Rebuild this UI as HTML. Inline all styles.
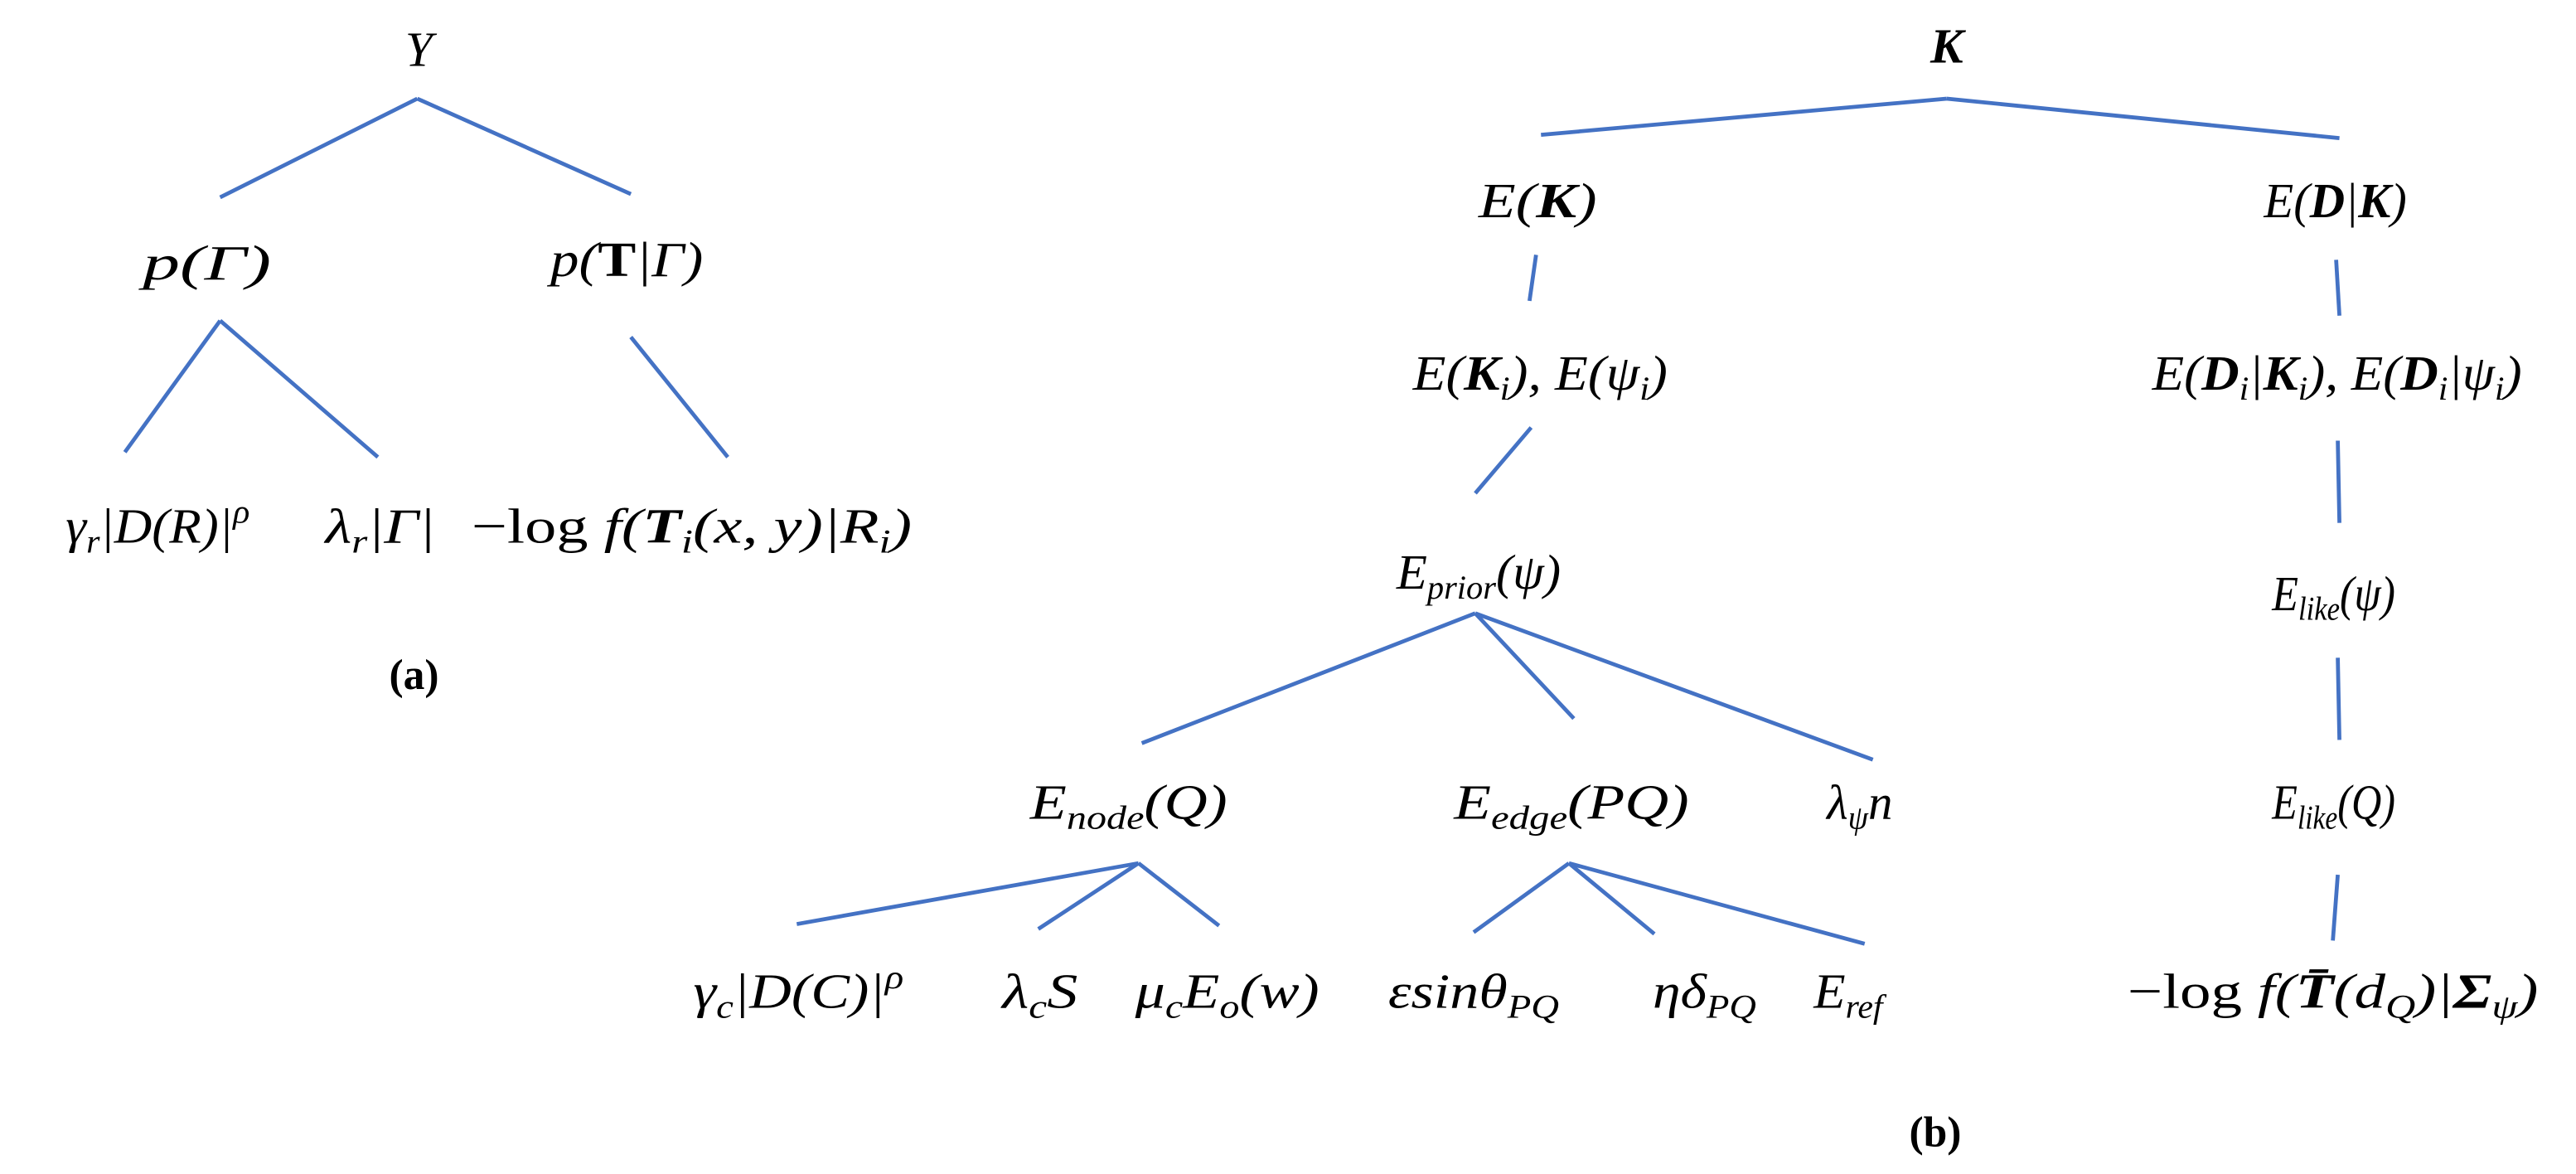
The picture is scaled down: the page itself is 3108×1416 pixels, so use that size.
<!DOCTYPE html>
<html><head><meta charset="utf-8"><style>
html,body{margin:0;padding:0;background:#fff;}
svg{display:block;}
text{font-family:"Liberation Serif","DejaVu Serif",serif;font-style:italic;font-size:30px;fill:#000;}
.b{font-style:normal;font-weight:bold;}
.bi{font-style:italic;font-weight:bold;}
.n{font-style:normal;}
.s{font-size:20px;}
line{stroke:#4472C4;stroke-width:2.4;}
</style></head><body>
<svg width="3108" height="1416" viewBox="0 0 1568 714" preserveAspectRatio="none" xmlns="http://www.w3.org/2000/svg">
<!-- (a) -->
<text x="255" y="40" text-anchor="middle">Y</text>
<line x1="254" y1="60" x2="134" y2="120"/>
<line x1="254" y1="60" x2="384" y2="118"/>
<text x="87" y="170" textLength="78" lengthAdjust="spacingAndGlyphs">p(Γ)</text>
<text x="335" y="168" textLength="93" lengthAdjust="spacingAndGlyphs">p(<tspan class="b">T</tspan>|Γ)</text>
<line x1="134" y1="195" x2="76" y2="275"/>
<line x1="134" y1="195" x2="230" y2="278"/>
<line x1="384" y1="205" x2="443" y2="278"/>
<text x="40" y="330" textLength="112" lengthAdjust="spacingAndGlyphs">γ<tspan class="s" dy="6">r</tspan><tspan dy="-6">|D(R)|</tspan><tspan class="s" dy="-12">ρ</tspan></text>
<text x="198" y="330" textLength="67" lengthAdjust="spacingAndGlyphs">λ<tspan class="s" dy="6">r</tspan><tspan dy="-6">|Γ|</tspan></text>
<text x="287" y="330" textLength="268" lengthAdjust="spacingAndGlyphs"><tspan class="n">−log </tspan>f(<tspan class="bi">T</tspan><tspan class="s" dy="6">i</tspan><tspan dy="-6">(x, y)|R</tspan><tspan class="s" dy="6">i</tspan><tspan dy="-6">)</tspan></text>
<text x="252" y="419" text-anchor="middle" class="b" style="font-size:26px">(a)</text>

<!-- (b) -->
<text x="1185" y="38" text-anchor="middle" class="bi">K</text>
<line x1="1185" y1="60" x2="938" y2="82"/>
<line x1="1185" y1="60" x2="1424" y2="84"/>
<text x="900" y="132" textLength="72" lengthAdjust="spacingAndGlyphs">E(<tspan class="bi">K</tspan>)</text>
<text x="1378" y="132" textLength="87" lengthAdjust="spacingAndGlyphs">E(<tspan class="bi">D</tspan>|<tspan class="bi">K</tspan>)</text>
<line x1="935" y1="155" x2="931" y2="183"/>
<line x1="1422" y1="158" x2="1424" y2="192"/>
<text x="860" y="237" textLength="155" lengthAdjust="spacingAndGlyphs">E(<tspan class="bi">K</tspan><tspan class="s" dy="6">i</tspan><tspan dy="-6">), E(ψ</tspan><tspan class="s" dy="6">i</tspan><tspan dy="-6">)</tspan></text>
<text x="1310" y="237" textLength="225" lengthAdjust="spacingAndGlyphs">E(<tspan class="bi">D</tspan><tspan class="s" dy="6">i</tspan><tspan dy="-6">|</tspan><tspan class="bi">K</tspan><tspan class="s" dy="6">i</tspan><tspan dy="-6">), E(</tspan><tspan class="bi">D</tspan><tspan class="s" dy="6">i</tspan><tspan dy="-6">|ψ</tspan><tspan class="s" dy="6">i</tspan><tspan dy="-6">)</tspan></text>
<line x1="932" y1="260" x2="898" y2="300"/>
<line x1="1423" y1="268" x2="1424" y2="318"/>
<text x="850" y="358" textLength="100" lengthAdjust="spacingAndGlyphs">E<tspan class="s" dy="6">prior</tspan><tspan dy="-6">(ψ)</tspan></text>
<text x="1383" y="371" textLength="75" lengthAdjust="spacingAndGlyphs">E<tspan class="s" dy="6">like</tspan><tspan dy="-6">(ψ)</tspan></text>
<line x1="898" y1="373" x2="695" y2="452"/>
<line x1="898" y1="373" x2="958" y2="437"/>
<line x1="898" y1="373" x2="1140" y2="462"/>
<line x1="1423" y1="400" x2="1424" y2="450"/>
<text x="627" y="498" textLength="120" lengthAdjust="spacingAndGlyphs">E<tspan class="s" dy="6">node</tspan><tspan dy="-6">(Q)</tspan></text>
<text x="885" y="498" textLength="143" lengthAdjust="spacingAndGlyphs">E<tspan class="s" dy="6">edge</tspan><tspan dy="-6">(PQ)</tspan></text>
<text x="1112" y="498" textLength="40" lengthAdjust="spacingAndGlyphs">λ<tspan class="s" dy="6">ψ</tspan><tspan dy="-6">n</tspan></text>
<text x="1383" y="498" textLength="75" lengthAdjust="spacingAndGlyphs">E<tspan class="s" dy="6">like</tspan><tspan dy="-6">(Q)</tspan></text>
<line x1="693" y1="525" x2="485" y2="562"/>
<line x1="693" y1="525" x2="632" y2="565"/>
<line x1="693" y1="525" x2="742" y2="563"/>
<line x1="955" y1="525" x2="897" y2="567"/>
<line x1="955" y1="525" x2="1007" y2="568"/>
<line x1="955" y1="525" x2="1135" y2="574"/>
<line x1="1423" y1="532" x2="1420" y2="572"/>
<text x="422" y="613" textLength="128" lengthAdjust="spacingAndGlyphs">γ<tspan class="s" dy="6">c</tspan><tspan dy="-6">|D(C)|</tspan><tspan class="s" dy="-12">ρ</tspan></text>
<text x="610" y="613" textLength="46" lengthAdjust="spacingAndGlyphs">λ<tspan class="s" dy="6">c</tspan><tspan dy="-6">S</tspan></text>
<text x="691" y="613" textLength="112" lengthAdjust="spacingAndGlyphs">μ<tspan class="s" dy="6">c</tspan><tspan dy="-6">E</tspan><tspan class="s" dy="6">o</tspan><tspan dy="-6">(w)</tspan></text>
<text x="845" y="613" textLength="104" lengthAdjust="spacingAndGlyphs">εsinθ<tspan class="s" dy="6">PQ</tspan></text>
<text x="1006" y="613" textLength="63" lengthAdjust="spacingAndGlyphs">ηδ<tspan class="s" dy="6">PQ</tspan></text>
<text x="1104" y="613" textLength="42" lengthAdjust="spacingAndGlyphs">E<tspan class="s" dy="6">ref</tspan></text>
<text x="1295" y="613" textLength="250" lengthAdjust="spacingAndGlyphs"><tspan class="n">−log </tspan>f(<tspan class="bi">T̄</tspan>(d<tspan class="s" dy="6">Q</tspan><tspan dy="-6">)|</tspan><tspan class="bi">Σ</tspan><tspan class="s" dy="6">ψ</tspan><tspan dy="-6">)</tspan></text>
<text x="1178" y="697" text-anchor="middle" class="b" style="font-size:26px">(b)</text>
</svg>
</body></html>
